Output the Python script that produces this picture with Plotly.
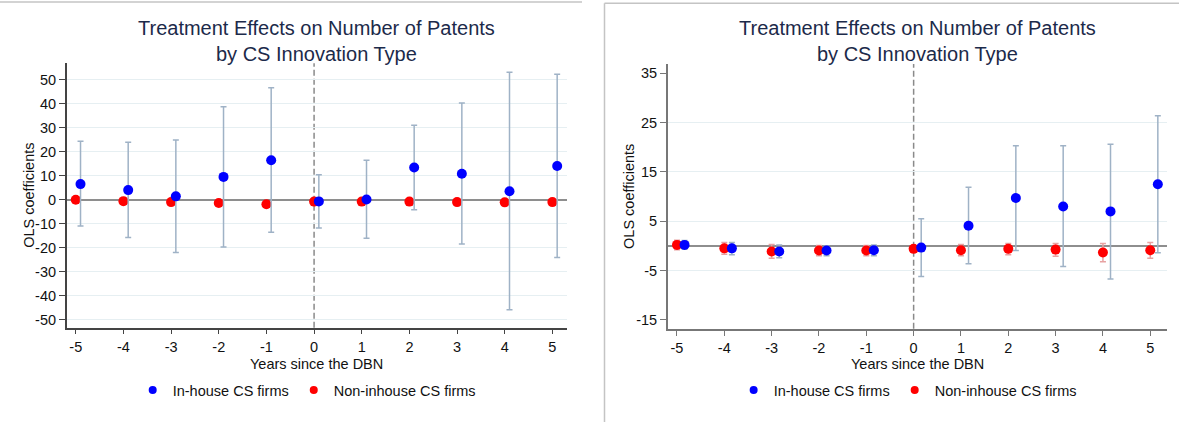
import plotly.graph_objects as go

# ---------------- data ----------------
years = [-5, -4, -3, -2, -1, 0, 1, 2, 3, 4, 5]
year_ticks = [-5, -4, -3, -2, -1, 0, 1, 2, 3, 4, 5]

# Left panel
inhouse_coef_L = [6.5, 4.0, 1.4, 9.5, 16.4, -0.7, 0.1, 13.4, 10.8, 3.5, 14.0]
inhouse_hi_L = [24.3, 23.9, 24.9, 38.7, 46.6, 10.4, 16.4, 31.0, 40.3, 53.1, 52.2]
inhouse_lo_L = [-11.0, -15.7, -22.0, -19.7, -13.6, -11.8, -16.1, -4.2, -18.4, -45.8, -24.1]
noninhouse_coef_L = [0.0, -0.6, -1.0, -1.4, -1.9, -0.8, -0.8, -0.8, -1.0, -1.1, -1.0]
yticks_L = [-50, -40, -30, -20, -10, 0, 10, 20, 30, 40, 50]

# Right panel
inhouse_coef_R = [0.2, -0.5, -1.15, -0.95, -0.9, -0.35, 4.1, 9.7, 8.0, 7.0, 12.5]
inhouse_hi_R = [1.1, 0.7, 0.2, 0.0, 0.2, 5.5, 11.9, 20.3, 20.3, 20.6, 26.4]
inhouse_lo_R = [-0.7, -1.8, -2.4, -2.0, -2.0, -6.2, -3.6, -0.95, -4.2, -6.7, -1.4]
noninhouse_coef_R = [0.2, -0.5, -1.15, -0.95, -0.95, -0.6, -0.9, -0.6, -0.75, -1.35, -0.9]
noninhouse_hi_R = [1.15, 0.7, 0.3, 0.1, 0.1, -0.1, 0.3, 0.5, 0.5, 0.5, 0.7]
noninhouse_lo_R = [-0.8, -1.7, -2.5, -2.0, -2.0, -1.1, -2.0, -1.8, -2.1, -3.2, -2.5]
yticks_R = [-15, -5, 5, 15, 25, 35]
ygrid_R = [-5, 5, 15, 25]

title_text = "Treatment Effects on Number of Patents<br>by CS Innovation Type"
xtitle = "Years since the DBN"
ytitle = "OLS coefficients"
name_in = "In-house CS firms"
name_non = "Non-inhouse CS firms"

# ---------------- styling ----------------
W, H = 1179, 422
FONT = "Liberation Sans, Arial, sans-serif"
FS = 14.5
BLUE = "#0000ff"
RED = "#ff0000"
CI_BLUE = "#9fb2c6"
CI_RED = "#e8a2a2"
TITLE_C = "#1c2a4a"
GRID_C = "#e6eff2"
TXT_C = "#111111"


def px_x(p):
    return p / W


def px_y(p):
    return 1 - p / H


fig = go.Figure()


def err(coef, hi, lo, color=CI_BLUE):
    return dict(type="data", symmetric=False,
                array=[h - c for h, c in zip(hi, coef)],
                arrayminus=[c - l for c, l in zip(coef, lo)],
                color=color, thickness=1.5, width=3)


# Left panel traces
fig.add_trace(go.Scatter(x=years, y=noninhouse_coef_L, mode="markers",
                         marker=dict(color=RED, size=10), showlegend=False,
                         xaxis="x", yaxis="y", cliponaxis=False))
off_L = 0.1
fig.add_trace(go.Scatter(x=[v + off_L for v in years], y=inhouse_coef_L, mode="markers",
                         marker=dict(color=BLUE, size=10),
                         error_y=err(inhouse_coef_L, inhouse_hi_L, inhouse_lo_L),
                         showlegend=False, xaxis="x", yaxis="y", cliponaxis=False))

# Right panel traces
fig.add_trace(go.Scatter(x=years, y=noninhouse_coef_R, mode="markers",
                         marker=dict(color=RED, size=10),
                         error_y=err(noninhouse_coef_R, noninhouse_hi_R, noninhouse_lo_R, CI_RED),
                         showlegend=False, xaxis="x2", yaxis="y2", cliponaxis=False))
off_R = 0.16
fig.add_trace(go.Scatter(x=[v + off_R for v in years], y=inhouse_coef_R, mode="markers",
                         marker=dict(color=BLUE, size=10),
                         error_y=err(inhouse_coef_R, inhouse_hi_R, inhouse_lo_R),
                         showlegend=False, xaxis="x2", yaxis="y2", cliponaxis=False))

# legend entries
for leg, xa, ya in (("legend", "x", "y"), ("legend2", "x2", "y2")):
    fig.add_trace(go.Scatter(x=[None], y=[None], mode="markers", name=name_in,
                             marker=dict(color=BLUE, size=8), legend=leg,
                             xaxis=xa, yaxis=ya))
    fig.add_trace(go.Scatter(x=[None], y=[None], mode="markers", name=name_non,
                             marker=dict(color=RED, size=8), legend=leg,
                             xaxis=xa, yaxis=ya))

# panel geometry (pixels)
L = dict(x0=66.7, x1=566.7, y0=63.3, y1=327.7)
R = dict(x0=668.0, x1=1167.3, y0=64.0, y1=328.7)

tickfont = dict(family=FONT, size=FS, color=TXT_C)


def xaxis(dom, rng, axcol, lw):
    return dict(domain=[px_x(dom["x0"]), px_x(dom["x1"])], range=rng,
                tickmode="array", tickvals=year_ticks, ticktext=[str(t) for t in year_ticks],
                ticks="outside", ticklen=5, tickcolor=axcol, tickwidth=1,
                showline=True, linecolor=axcol, linewidth=lw, showgrid=False,
                zeroline=False, tickfont=tickfont, fixedrange=True)


def yaxis(dom, rng, ticks, grid, axcol, lw, anchor):
    d = dict(domain=[px_y(dom["y1"]), px_y(dom["y0"])], range=rng,
             tickmode="array", tickvals=ticks, ticktext=[str(t) for t in ticks],
             ticks="outside", ticklen=6, tickcolor=axcol, tickwidth=1,
             showline=True, linecolor=axcol, linewidth=lw,
             zeroline=True, zerolinecolor="#8e8e8e", zerolinewidth=2,
             tickfont=tickfont, anchor=anchor, fixedrange=True)
    if grid is None:
        d.update(showgrid=True, gridcolor=GRID_C, gridwidth=1)
    else:
        d.update(showgrid=False,
                 minor=dict(tickmode="array", tickvals=grid, showgrid=True,
                            gridcolor=GRID_C, gridwidth=1, ticks=""))
    return d


fig.update_layout(
    width=W, height=H, autosize=False,
    margin=dict(l=0, r=0, t=0, b=0),
    paper_bgcolor="white", plot_bgcolor="white",
    font=dict(family=FONT, size=FS, color=TXT_C),
    xaxis=xaxis(L, [-5.19, 5.30], "#444444", 1.5) | dict(anchor="y"),
    yaxis=yaxis(L, [-53.3, 56.8], yticks_L, None, "#444444", 1.5, "x"),
    xaxis2=xaxis(R, [-5.19, 5.36], "#777777", 2) | dict(anchor="y2"),
    yaxis2=yaxis(R, [-16.8, 36.9], yticks_R, ygrid_R, "#777777", 2, "x2"),
    legend=dict(orientation="h", x=px_x((L["x0"] + L["x1"]) / 2 - 10), xanchor="center",
                y=px_y(390), yanchor="middle", font=dict(family=FONT, size=FS, color=TXT_C),
                bgcolor="rgba(0,0,0,0)", itemclick=False, itemdoubleclick=False),
    legend2=dict(orientation="h", x=px_x((R["x0"] + R["x1"]) / 2 - 10), xanchor="center",
                 y=px_y(390), yanchor="middle", font=dict(family=FONT, size=FS, color=TXT_C),
                 bgcolor="rgba(0,0,0,0)", itemclick=False, itemdoubleclick=False),
)

annotations = []
shapes = []
for dom, xref in ((L, "x"), (R, "x2")):
    cx = px_x((dom["x0"] + dom["x1"]) / 2)
    annotations.append(dict(text=title_text, xref="paper", yref="paper", x=cx, y=px_y(41.5),
                            xanchor="center", yanchor="middle", showarrow=False,
                            font=dict(family=FONT, size=20, color=TITLE_C)))
    annotations.append(dict(text=xtitle, xref="paper", yref="paper", x=cx, y=px_y(363.5),
                            xanchor="center", yanchor="middle", showarrow=False, borderpad=0,
                            font=dict(family=FONT, size=FS, color=TXT_C)))
    annotations.append(dict(text=ytitle, xref="paper", yref="paper",
                            x=px_x(dom["x0"] - 38.4), y=px_y((dom["y0"] + dom["y1"]) / 2),
                            xanchor="center", yanchor="middle", showarrow=False, textangle=-90,
                            font=dict(family=FONT, size=FS, color=TXT_C)))
    yref = "y domain" if xref == "x" else "y2 domain"
    shapes.append(dict(type="line", xref=xref, yref=yref, x0=0, x1=0, y0=0, y1=1,
                       line=dict(color="#8a8a8a", width=1.5, dash="6px,3px"), layer="below"))

# panel borders
shapes.append(dict(type="line", xref="paper", yref="paper", x0=0, x1=px_x(582), y0=px_y(2), y1=px_y(2),
                   line=dict(color="#c4c4c4", width=1.5)))
shapes.append(dict(type="line", xref="paper", yref="paper", x0=px_x(604.5), x1=1, y0=px_y(3.3), y1=px_y(3.3),
                   line=dict(color="#c4c4c4", width=1.5)))
shapes.append(dict(type="line", xref="paper", yref="paper", x0=px_x(604.5), x1=px_x(604.5), y0=0, y1=px_y(3.3),
                   line=dict(color="#c4c4c4", width=1.5)))

fig.update_layout(annotations=annotations, shapes=shapes)
fig.write_html("out.html", config={"displayModeBar": False},
               post_script="document.body.style.margin='0';document.body.style.overflow='hidden';")
